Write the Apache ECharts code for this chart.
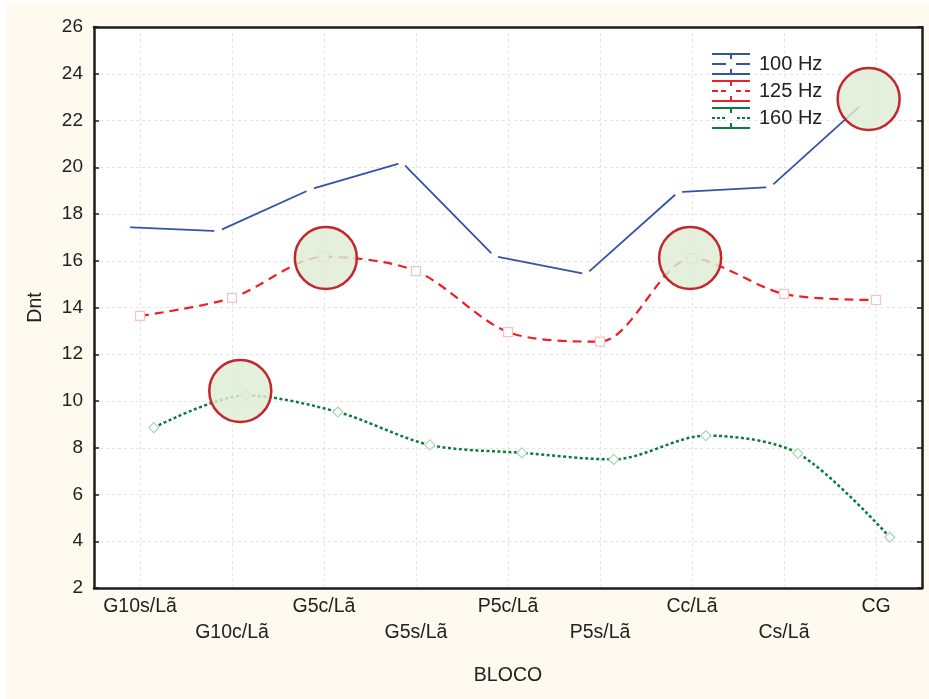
<!DOCTYPE html>
<html>
<head>
<meta charset="utf-8">
<script src="https://cdn.jsdelivr.net/npm/echarts@6/dist/echarts.min.js"></script>
<style>
  html, body { margin: 0; padding: 0; background: #ffffff; }
  #chart { position: absolute; left: 6px; top: 3px; width: 923px; height: 696px; background: #FEFAF0; }
</style>
</head>
<body>
<div id="chart"></div>
<script>
// Categories along the BLOCO axis
const categories = ['G10s/Lã', 'G10c/Lã', 'G5c/Lã', 'G5s/Lã', 'P5c/Lã', 'P5s/Lã', 'Cc/Lã', 'Cs/Lã', 'CG'];

// Dnt values per frequency band
const dnt100 = [17.44, 17.27, 19.05, 20.20, 16.20, 15.43, 18.94, 19.15, 22.70];
const dnt125 = [13.64, 14.41, 16.17, 15.56, 12.95, 12.54, 16.10, 14.58, 14.32];
const dnt160 = [8.86, 10.24, 9.53, 8.12, 7.78, 7.50, 8.52, 7.76, 4.17];

// Horizontal shift of each band around its category (in category units)
const shift100 = -0.15;
const shift125 = 0;
const shift160 = 0.15;

// Highlighted spots (category position, Dnt)
const highlightPos = [1.09, 2.02, 5.98, 7.92];
const highlightDnt = [10.43, 16.12, 16.12, 22.92];

const yTicks = { min: 2, max: 26, step: 2 };

const blue = '#3353A4';
const red = '#EC2027';
const green = '#0A7D3C';
const frame = '#1d1d1d';
const ink = '#222222';

function pairs(values, shift) {
  return values.map((v, i) => [i + shift, v]);
}

// Legend icons: error-bar style glyphs (38 x 22 box)
const bars = 'M0 0H38V2H0Z M0 20H38V22H0Z M18 0H20V6H18Z M18 16H20V22H18Z ';
const icon100 = 'path://' + bars + 'M0 10H14V12H0Z M24 10H38V12H24Z';
const icon125 = 'path://' + bars + 'M0 10H6V12H0Z M9 10H14V12H9Z M24 10H29V12H24Z M33 10H38V12H33Z';
const icon160 = 'path://' + bars + 'M0 10H3V12H0Z M5 10H8V12H5Z M10 10H13V12H10Z M25 10H28V12H25Z M30 10H33V12H30Z M35 10H38V12H35Z';

const chart = echarts.init(document.getElementById('chart'), null, { renderer: 'canvas' });

const font = 'Liberation Sans, Arial, sans-serif';

chart.setOption({
  backgroundColor: '#FEFAF0',
  animation: false,
  textStyle: { fontFamily: font },
  grid: { left: 88, top: 24, width: 828, height: 561, show: true, backgroundColor: '#ffffff', borderWidth: 0 },
  legend: {
    orient: 'vertical',
    left: 701,
    top: 45,
    itemWidth: 38,
    itemHeight: 22,
    itemGap: 5,
    textStyle: { fontSize: 20, color: ink, fontFamily: font, padding: [0, 0, 0, 4] },
    data: [
      { name: '100 Hz', icon: icon100, itemStyle: { color: blue, borderWidth: 0 } },
      { name: '125 Hz', icon: icon125, itemStyle: { color: red, borderWidth: 0 } },
      { name: '160 Hz', icon: icon160, itemStyle: { color: green, borderWidth: 0 } }
    ]
  },
  xAxis: [
    {
      type: 'category',
      data: categories,
      position: 'bottom',
      boundaryGap: true,
      axisLine: { onZero: false, lineStyle: { color: frame, width: 2.5 } },
      axisTick: { inside: true, alignWithLabel: true, length: 5, lineStyle: { color: frame, width: 1.5 } },
      axisLabel: {
        interval: 0,
        margin: 6,
        fontSize: 19.5,
        lineHeight: 26,
        color: ink,
        fontFamily: font,
        formatter: (v, i) => (i % 2 === 1 ? '\n' + v : v)
      },
      splitLine: { show: false },
      name: 'BLOCO',
      nameLocation: 'middle',
      nameGap: 78,
      nameTextStyle: { fontSize: 19.5, color: ink, fontFamily: font }
    },
    {
      type: 'value',
      min: -0.5,
      max: 8.5,
      splitNumber: 9,
      position: 'bottom',
      axisLine: { show: false, onZero: false },
      axisTick: { show: false },
      axisLabel: { show: false },
      splitLine: { show: true, lineStyle: { color: '#e4e4e4', type: [3, 3], width: 1 } }
    },
    {
      type: 'category',
      data: categories,
      position: 'top',
      boundaryGap: true,
      axisLine: { onZero: false, lineStyle: { color: frame, width: 2.5 } },
      axisTick: { inside: true, alignWithLabel: true, length: 5, lineStyle: { color: frame, width: 1.5 } },
      axisLabel: { show: false },
      splitLine: { show: false }
    }
  ],
  yAxis: [
    {
      type: 'value',
      min: yTicks.min,
      max: yTicks.max,
      interval: yTicks.step,
      position: 'left',
      axisLine: { show: true, onZero: false, lineStyle: { color: frame, width: 2.5 } },
      axisTick: { show: true, inside: true, length: 5, lineStyle: { color: frame, width: 1.5 } },
      axisLabel: { margin: 11, fontSize: 19, color: ink, fontFamily: font },
      splitLine: { show: true, lineStyle: { color: '#e4e4e4', type: [3, 3], width: 1 } },
      name: 'Dnt',
      nameLocation: 'middle',
      nameRotate: 90,
      nameGap: 48,
      nameTextStyle: { fontSize: 19.5, color: ink, fontFamily: font }
    },
    {
      type: 'value',
      min: yTicks.min,
      max: yTicks.max,
      interval: yTicks.step,
      position: 'right',
      axisLine: { show: true, onZero: false, lineStyle: { color: frame, width: 2.5 } },
      axisTick: { show: true, inside: true, length: 5, lineStyle: { color: frame, width: 1.5 } },
      axisLabel: { show: false },
      splitLine: { show: false }
    }
  ],
  series: [
    {
      name: '100 Hz',
      type: 'line',
      xAxisIndex: 1,
      yAxisIndex: 0,
      data: pairs(dnt100, shift100),
      symbol: 'circle',
      symbolSize: 8,
      itemStyle: { color: '#FFFDF6', borderWidth: 0 },
      lineStyle: { color: blue, width: 1.8 },
      z: 3
    },
    {
      name: '125 Hz',
      type: 'line',
      xAxisIndex: 1,
      yAxisIndex: 0,
      data: pairs(dnt125, shift125),
      smooth: 0.3,
      symbol: 'rect',
      symbolSize: 9,
      itemStyle: { color: '#ffffff', borderColor: '#F6C2C2', borderWidth: 1.2 },
      lineStyle: { color: red, width: 2.2, type: [9, 6] },
      z: 3
    },
    {
      name: '160 Hz',
      type: 'line',
      xAxisIndex: 1,
      yAxisIndex: 0,
      data: pairs(dnt160, shift160),
      smooth: 0.3,
      symbol: 'diamond',
      symbolSize: 10,
      itemStyle: { color: '#ffffff', borderColor: '#A9D6B8', borderWidth: 1.2 },
      lineStyle: { color: green, width: 2.5, type: [3, 2.5] },
      z: 3
    },
    {
      name: 'destaque',
      type: 'scatter',
      xAxisIndex: 1,
      yAxisIndex: 0,
      data: highlightPos.map((p, i) => [p, highlightDnt[i]]),
      symbol: 'circle',
      symbolSize: 62,
      silent: true,
      itemStyle: { color: 'rgba(222, 237, 212, 0.82)', borderColor: '#C1272D', borderWidth: 2.5, opacity: 1 },
      z: 5
    }
  ]
});
</script>
</body>
</html>
